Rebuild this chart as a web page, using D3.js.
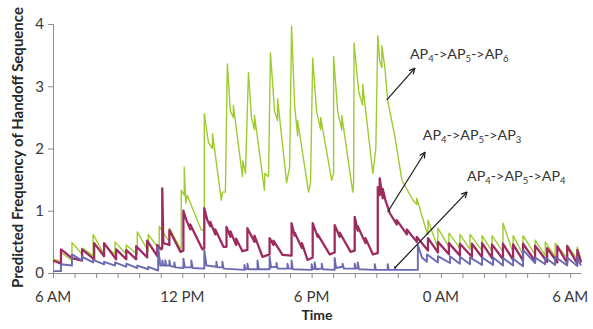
<!DOCTYPE html>
<html>
<head>
<meta charset="utf-8">
<script src="https://cdn.jsdelivr.net/npm/d3@7"></script>
<style>
  html, body { margin: 0; padding: 0; background: #fff; }
  svg { display: block; font-family: Lato, "Open Sans", sans-serif; }
</style>
</head>
<body>
<svg id="chart" width="593" height="329"></svg>
<script>
// Hours after 6 AM and predicted frequency, one polyline vertex per pair.
const seqToAP6 = [
  [0,0.22],[0.37,0.19],[0.37,0.33],[0.88,0.2],[0.88,0.49],[1.35,0.3],[1.35,0.4],[1.86,0.28],[1.86,0.62],
  [2.37,0.3],[2.37,0.45],[2.88,0.3],[2.88,0.5],[3.40,0.3],[3.40,0.45],[3.91,0.3],[3.91,0.66],
  [4.42,0.35],[4.42,0.62],[4.93,0.38],[4.93,0.75],[5.40,0.5],[5.40,0.72],[5.95,0.37],[5.95,1.33],
  [6.09,1.25],[6.09,1.7],[6.16,1.12],[6.23,1.25],[6.88,0.69],[7.02,0.69],[7.02,2.56],[7.21,2.1],
  [7.40,2.0],[7.40,2.24],[7.81,1.17],[7.86,1.3],[8.0,1.3],[8.09,3.36],[8.23,2.6],[8.37,2.5],[8.37,2.69],
  [8.79,1.55],[8.81,1.8],[8.93,1.6],[9.07,3.22],[9.21,2.5],[9.35,2.3],[9.35,2.53],[9.81,1.33],[9.83,1.6],
  [10.0,1.55],[10.09,3.54],[10.28,2.6],[10.42,2.45],[10.42,2.8],[10.84,1.45],[10.98,1.7],[11.07,3.97],
  [11.21,2.7],[11.35,2.2],[11.35,2.45],[11.86,1.3],[11.95,1.45],[12.05,3.45],[12.23,2.6],[12.42,2.3],
  [12.42,2.5],[12.93,1.49],[13.02,1.6],[13.02,3.48],[13.21,2.6],[13.40,2.3],[13.40,2.53],[13.91,1.3],
  [13.95,1.45],[13.97,3.69],[14.19,2.9],[14.37,2.7],[14.37,3.03],[14.84,1.6],[14.98,2.0],[15.07,3.81],
  [15.16,3.4],[15.26,3.3],[15.26,3.65],[15.40,3.3],[15.53,2.77],[15.86,2.2],[16.19,1.49],[16.70,1.17],
  [16.88,1.1],[16.88,1.2],[17.35,0.65],[17.40,0.62],[17.40,0.85],[17.81,0.45],[17.86,0.45],[17.86,0.72],
  [18.37,0.42],[18.37,0.64],[18.88,0.4],[18.88,0.62],[19.35,0.38],[19.35,0.62],[19.91,0.36],[19.91,0.6],
  [20.37,0.35],[20.37,0.6],[20.88,0.34],[20.88,0.8],[21.35,0.32],[21.35,0.6],[21.81,0.3],[21.81,0.6],
  [22.37,0.3],[22.37,0.53],[22.84,0.28],[22.84,0.5],[23.30,0.26],[23.30,0.48],[23.86,0.24],[23.86,0.45],
  [24.33,0.22],[24.33,0.42],[24.5,0.21]
];

const seqToAP3 = [
  [0,0.2],[0.37,0.15],[0.37,0.38],[0.88,0.24],[1.35,0.2],[1.35,0.38],[1.91,0.22],[1.91,0.48],
  [2.37,0.27],[2.37,0.48],[2.93,0.22],[2.93,0.38],[3.40,0.22],[3.40,0.37],[3.86,0.22],[3.86,0.43],
  [4.37,0.25],[4.37,0.52],[4.84,0.27],[4.84,0.45],[5.02,0.38],[5.07,0.4],[5.07,1.36],[5.12,0.48],
  [5.40,0.45],[5.40,0.69],[5.91,0.34],[6.05,0.36],[6.05,1.0],[6.19,0.85],[6.37,0.7],[6.37,0.78],
  [6.93,0.38],[7.02,0.4],[7.02,1.04],[7.16,0.85],[7.30,0.75],[7.30,0.82],[7.53,0.62],[7.53,0.7],
  [7.91,0.42],[8.05,0.42],[8.05,0.74],[8.23,0.58],[8.23,0.67],[8.50,0.45],[8.50,0.55],[8.79,0.35],
  [9.02,0.37],[9.02,0.72],[9.35,0.5],[9.35,0.6],[9.72,0.26],[10.05,0.3],[10.05,0.56],[10.23,0.45],
  [10.23,0.52],[10.65,0.29],[11.07,0.28],[11.07,0.8],[11.21,0.6],[11.21,0.65],[11.55,0.4],[11.55,0.48],
  [11.81,0.21],[12.05,0.25],[12.05,0.8],[12.28,0.58],[12.28,0.62],[12.84,0.3],[13.07,0.33],[13.07,0.77],
  [13.30,0.58],[13.30,0.65],[13.81,0.34],[14.0,0.36],[14.0,0.9],[14.14,0.68],[14.14,0.75],[14.5,0.48],
  [14.5,0.56],[14.84,0.3],[15.07,0.32],[15.07,1.38],[15.16,1.25],[15.16,1.52],[15.30,1.2],[15.30,1.35],
  [15.44,1.15],[15.63,0.96],[15.95,0.78],[15.95,0.85],[16.42,0.62],[16.42,0.7],[16.88,0.5],[16.88,0.58],
  [17.40,0.36],[17.40,0.56],[17.86,0.33],[17.86,0.5],[18.37,0.3],[18.37,0.48],[18.88,0.28],[18.88,0.47],
  [19.44,0.26],[19.44,0.47],[19.91,0.25],[19.91,0.48],[20.37,0.24],[20.37,0.46],[20.88,0.22],[20.88,0.47],
  [21.35,0.21],[21.35,0.46],[21.81,0.2],[21.81,0.47],[22.37,0.19],[22.37,0.44],[22.93,0.18],[22.93,0.4],
  [23.40,0.17],[23.40,0.43],[23.86,0.16],[23.86,0.43],[24.33,0.15],[24.33,0.37],[24.5,0.17]
];

const seqToAP4 = [
  [0,0.03],[0.37,0.03],[0.37,0.14],[0.88,0.12],[0.88,0.3],[1.35,0.2],[1.35,0.26],[1.86,0.17],[1.86,0.21],
  [2.37,0.14],[2.37,0.18],[2.88,0.12],[2.88,0.17],[3.40,0.1],[3.40,0.15],[3.91,0.08],[3.91,0.12],
  [4.42,0.06],[4.42,0.1],[4.88,0.04],[4.88,0.42],[4.98,0.12],[5.07,0.12],[5.07,0.2],[5.12,0.12],
  [5.21,0.12],[5.21,0.2],[5.26,0.12],[5.40,0.12],[5.40,0.2],[5.45,0.11],[5.63,0.1],[5.63,0.17],[5.68,0.09],
  [6.05,0.08],[6.05,0.23],[6.12,0.09],[6.42,0.09],[6.42,0.2],[6.48,0.08],[7.02,0.07],[7.02,0.37],[7.12,0.12],
  [7.58,0.1],[7.58,0.18],[7.63,0.09],[7.86,0.09],[7.86,0.18],[7.92,0.07],[8.88,0.05],[8.88,0.13],[8.93,0.06],
  [9.02,0.07],[9.02,0.15],[9.07,0.06],[9.49,0.06],[9.49,0.2],[9.55,0.06],[10.05,0.06],[10.05,0.26],
  [10.12,0.09],[10.37,0.1],[10.37,0.16],[10.42,0.07],[10.88,0.07],[10.88,0.15],[10.93,0.07],[11.07,0.07],
  [11.07,0.2],[11.13,0.06],[12.0,0.05],[12.0,0.14],[12.05,0.06],[12.14,0.07],[12.14,0.17],[12.2,0.06],
  [12.47,0.07],[12.47,0.15],[12.52,0.06],[13.07,0.05],[13.07,0.24],[13.14,0.08],[13.44,0.1],[13.44,0.15],
  [13.5,0.07],[14.0,0.07],[14.0,0.15],[14.05,0.07],[14.14,0.08],[14.14,0.17],[14.2,0.06],[14.93,0.05],
  [14.93,0.14],[14.98,0.05],[15.53,0.05],[15.53,0.14],[15.58,0.05],[15.86,0.05],[15.86,0.1],[15.9,0.05],
  [16.93,0.05],[16.93,0.45],[17.12,0.25],[17.35,0.18],[17.35,0.3],[17.86,0.17],[17.86,0.27],[18.42,0.16],
  [18.42,0.27],[18.88,0.15],[18.88,0.26],[19.35,0.14],[19.35,0.25],[19.91,0.13],[19.91,0.25],[20.42,0.13],
  [20.42,0.25],[20.88,0.12],[20.88,0.24],[21.35,0.12],[21.35,0.23],[21.81,0.11],[21.81,0.37],[22.37,0.16],
  [22.37,0.25],[22.84,0.14],[22.84,0.25],[23.30,0.13],[23.30,0.26],[23.86,0.12],[23.86,0.25],[24.33,0.11],
  [24.33,0.26],[24.5,0.12]
];

const xTickLabels = ["6 AM", "12 PM", "6 PM", "0 AM", "6 AM"];
const xLabelHours = [0, 6, 12, 18, 24];
const yTicks = [0, 1, 2, 3, 4];

// Sequence labels: destination subscripts, label anchor and arrow (tail -> head), in data units.
const seqNames = [["4", "5", "6"], ["4", "5", "3"], ["4", "5", "4"]];
const labelAnchors = [[16.56, 3.43], [17.16, 2.14], [19.21, 1.47]];
const arrowTails = [[15.49, 2.78], [15.53, 0.98], [15.86, 0.08]];
const arrowHeads = [[16.79, 3.29], [17.26, 1.94], [19.21, 1.3]];

const colors = { ap6: "#9ECC30", ap3: "#9E2B60", ap4: "#6A6AB2" };

const svg = d3.select("#chart");
const plotLeft = 53, plotRight = 581, plotTop = 24, plotBottom = 273;

const x = d3.scaleLinear().domain([0, 24.5]).range([plotLeft, plotRight]);
const y = d3.scaleLinear().domain([0, 4]).range([plotBottom, plotTop]);

const axisColor = "#8c8c8c";

// Y axis
const yAxis = svg.append("g").attr("transform", `translate(${plotLeft},0)`)
  .call(d3.axisLeft(y).tickValues(yTicks).tickSize(5).tickPadding(4).tickFormat(d3.format("d")));
yAxis.select(".domain").attr("stroke", axisColor);
yAxis.selectAll(".tick line").attr("stroke", axisColor);
yAxis.selectAll("text").attr("font-size", 15).attr("fill", "#3a3a3a")
  .attr("font-family", "Lato, sans-serif");

// X axis: hourly ticks, labels every six hours
const xAxis = svg.append("g").attr("transform", `translate(0,${plotBottom})`)
  .call(d3.axisBottom(x).tickValues(d3.range(0, 25)).tickSize(5).tickSizeOuter(0).tickFormat(""));
xAxis.select(".domain").attr("stroke", axisColor);
xAxis.selectAll(".tick line").attr("stroke", axisColor);

svg.append("g").selectAll("text").data(xLabelHours).join("text")
  .attr("x", d => x(d)).attr("y", plotBottom + 29)
  .attr("text-anchor", "middle").attr("font-size", 15).attr("fill", "#3a3a3a")
  .text((d, i) => xTickLabels[i]);

// Axis titles
svg.append("text").attr("x", 317).attr("y", plotBottom + 47)
  .attr("text-anchor", "middle").attr("font-size", 14).attr("font-weight", "bold").attr("fill", "#262626")
  .text("Time");
svg.append("text")
  .attr("transform", `translate(23,${(plotTop + plotBottom) / 2 - 1}) rotate(-90)`)
  .attr("text-anchor", "middle").attr("font-size", 15).attr("font-weight", "bold").attr("fill", "#262626")
  .text("Predicted Frequency of Handoff Sequence");

// Series lines
const line = d3.line().x(d => x(d[0])).y(d => y(d[1]));
const series = [
  { data: seqToAP6, color: colors.ap6, width: 1.4 },
  { data: seqToAP3, color: colors.ap3, width: 2.3 },
  { data: seqToAP4, color: colors.ap4, width: 1.9 }
];
svg.append("g").selectAll("path").data(series).join("path")
  .attr("d", d => line(d.data))
  .attr("fill", "none")
  .attr("stroke", d => d.color)
  .attr("stroke-width", d => d.width)
  .attr("stroke-linejoin", "round");

// Arrows
svg.append("defs").append("marker")
  .attr("id", "arrowhead").attr("viewBox", "0 0 10 10")
  .attr("refX", 9).attr("refY", 5).attr("markerWidth", 7).attr("markerHeight", 7)
  .attr("markerUnits", "userSpaceOnUse").attr("orient", "auto")
  .append("path").attr("d", "M1,1 L9,5 L1,9").attr("fill", "none")
  .attr("stroke", "#1a1a1a").attr("stroke-width", 1.8);

svg.append("g").selectAll("line").data(arrowTails).join("line")
  .attr("x1", d => x(d[0])).attr("y1", d => y(d[1]))
  .attr("x2", (d, i) => x(arrowHeads[i][0])).attr("y2", (d, i) => y(arrowHeads[i][1]))
  .attr("stroke", "#1a1a1a").attr("stroke-width", 1.2)
  .attr("marker-end", "url(#arrowhead)");

// Sequence labels with subscripted access point numbers
const labels = svg.append("g").selectAll("text").data(seqNames).join("text")
  .attr("x", (d, i) => x(labelAnchors[i][0])).attr("y", (d, i) => y(labelAnchors[i][1]))
  .attr("font-size", 14.3).attr("fill", "#333");
labels.each(function(d) {
  const t = d3.select(this);
  d.forEach((n, k) => {
    t.append("tspan").text("AP");
    t.append("tspan").attr("font-size", 9.5).attr("dy", 3).text(n);
    if (k < d.length - 1) t.append("tspan").attr("dy", -3).text("->");
  });
});
</script>
</body>
</html>
